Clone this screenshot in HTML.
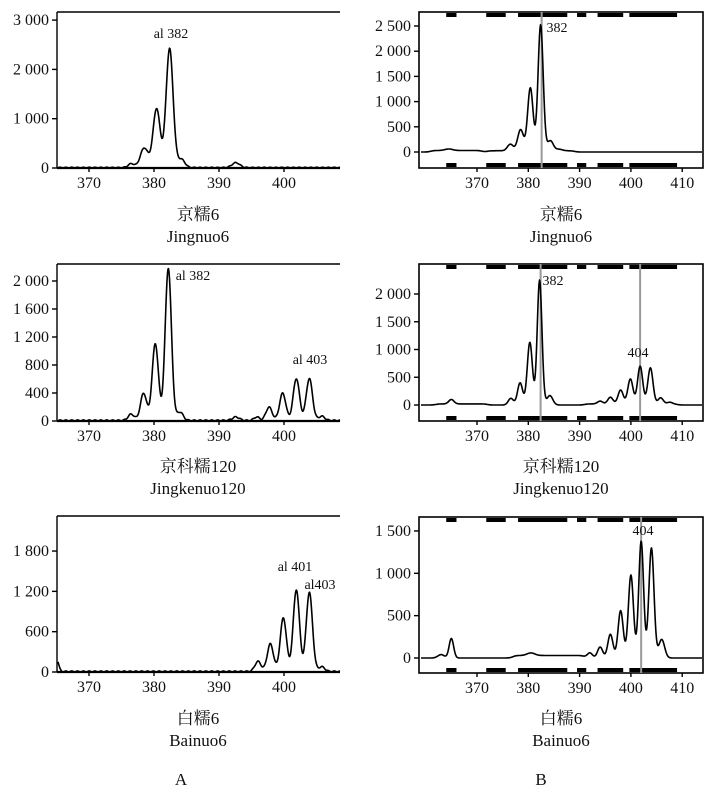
<!DOCTYPE html>
<html><head><meta charset="utf-8"><style>
html,body{margin:0;padding:0;background:#fff}
svg text{font-family:"Liberation Serif","Noto Serif CJK SC",serif;fill:#111}
</style></head><body>
<svg id="s" width="714" height="794" xmlns="http://www.w3.org/2000/svg"></svg>
<script>
const S=document.getElementById('s');let h='';
function T(x,y,t,sz,anc){h+=`<text x="${x}" y="${y}" font-size="${sz||16}" text-anchor="${anc||'middle'}">${t}</text>`;}
function L(x1,y1,x2,y2,c,w){h+=`<line x1="${x1}" y1="${y1}" x2="${x2}" y2="${y2}" stroke="${c||'#000'}" stroke-width="${w||1.4}"/>`;}
function sm(v,a,b){return 1/(1+Math.exp(-(v-a)*3))-1/(1+Math.exp(-(v-b)*3));}
function curve(peaks,x0,x1,vx,base0,sy,bl,k){
  let d='';
  for(let px=x0;px<=x1;px+=0.5){
    const v=vx(px);let y=0;
    for(const p of peaks){const s=(p[2]||0.45)*k;y+=p[1]*Math.exp(-Math.pow(v-p[0],2)/(2*s*s));}
    if(bl)y+=bl(v);
    let py=base0-y*sy;
    d+=(d?'L':'M')+px.toFixed(1)+' '+py.toFixed(1);
  }
  h+=`<path d="${d}" fill="none" stroke="#000" stroke-width="1.6" stroke-linejoin="round"/>`;
}
// ----- Panel A -----
function panelA(top,bot,ticks,sy,peaks,name,sub,ty,ann){
  const x0=57,x1=340;
  L(x0,top,x1,top);L(x0,top,x0,bot);L(x0,bot,x1,bot,'#000',2.2);
  for(const [v,lab] of ticks){const y=bot-v*sy;L(x0-5,y,x0,y);T(x0-8,y+5,lab,16,'end');}
  for(const v of [370,380,390,400]){const x=89+(v-370)*6.5;L(x,bot,x,bot+4);T(x,bot+20,v,16);}
  curve(peaks,x0+1,x1,px=>370+(px-89)/6.5,bot,sy,v=>((Math.sin(v*7)+1)*8),1.2);
  T(198,ty,name,17);T(198,ty+22,sub,17);
  for(const a of ann)T(a[0],a[1],a[2],14);
}
panelA(12,168,[[0,'0'],[1000,'1 000'],[2000,'2 000'],[3000,'3 000']],0.0493,
 [[376.5,80,.4],[378.5,400,.5],[380.4,1200,.45],[382.4,2420,.45],[384.2,170,.45],[392.6,100,.5]],
 '京糯6','Jingnuo6',220,[[171,38,'al 382']]);
panelA(264,421,[[0,'0'],[400,'400'],[800,'800'],[1200,'1 200'],[1600,'1 600'],[2000,'2 000']],0.07,
 [[376.5,90,.4],[378.4,390,.4],[380.2,1100,.4],[382.2,2180,.4],[384,120,.4],[392.6,50],[395.8,50,.35],[397.7,190,.4],[399.8,390,.4],[401.9,600,.4],[403.9,600,.4],[405.8,60,.4]],
 '京科糯120','Jingkenuo120',472,[[193,280,'al 382'],[310,364,'al 403']]);
panelA(516,672,[[0,'0'],[600,'600'],[1200,'1 200'],[1800,'1 800']],0.0672,
 [[365,200,.25],[396,150,.4],[397.9,410,.4],[399.9,800,.4],[401.9,1220,.4],[403.9,1180,.4],[405.8,70,.4]],
 '白糯6','Bainuo6',724,[[295,571,'al 401'],[320,589,'al403']]);
T(181,785,'A',17);
// ----- Panel B -----
const segs=[[364,366],[371.8,375.6],[378,387.6],[389.5,391.3],[393.5,398.5],[399.7,409]];
function panelB(top,bot,z,ticks,sy,peaks,bl,name,sub,ty,gl,ann){
  const x0=419,x1=703,X=v=>477+(v-370)*5.13;
  h+=`<rect x="${x0}" y="${top}" width="${x1-x0}" height="${bot-top}" fill="none" stroke="#000" stroke-width="1.6"/>`;
  for(const s of segs){h+=`<rect x="${X(s[0])}" y="${top+1}" width="${X(s[1])-X(s[0])}" height="4" fill="#000"/><rect x="${X(s[0])}" y="${bot-5}" width="${X(s[1])-X(s[0])}" height="4" fill="#000"/>`;}
  for(const g of gl)L(X(g),top,X(g),bot,'#999',2);
  for(const [v,lab] of ticks){const y=z-v*sy;L(x0-5,y,x0,y);T(x0-8,y+5,lab,16,'end');}
  for(const v of [370,380,390,400,410]){const x=X(v);L(x,bot,x,bot+4);T(x,bot+20,v,16);}
  curve(peaks,x0+2,x1-1,px=>370+(px-477)/5.13,z,sy,bl,1.25);
  T(561,ty,name,17);T(561,ty+22,sub,17);
  for(const a of ann)T(a[0],a[1],a[2],14);
}
panelB(12,168,152,[[0,'0'],[500,'500'],[1000,'1 000'],[1500,'1 500'],[2000,'2 000'],[2500,'2 500']],0.0504,
 [[364.5,30,.6],[376.5,130,.45],[378.5,420,.45],[380.4,1250,.42],[382.4,2500,.4],[384.3,200,.45],[386,30,.5]],
 v=>30*sm(v,361,371)+25*sm(v,372,389),'京糯6','Jingnuo6',220,[382.6],[[557,32,'382']]);
panelB(264,421,405,[[0,'0'],[500,'500'],[1000,'1 000'],[1500,'1 500'],[2000,'2 000']],0.0555,
 [[365,80,.4],[376.6,120,.4],[378.4,400,.4],[380.3,1130,.4],[382.2,2250,.37],[384.2,170,.45],[394,50,.4],[396,120,.4],[398,250,.4],[399.9,450,.4],[401.8,680,.4],[403.8,650,.4],[405.8,110,.4],[407.6,30,.4]],
 v=>20*sm(v,362,372)+20*sm(v,391,409),'京科糯120','Jingkenuo120',472,[382.4,401.8],[[553,285,'382'],[638,357,'404']]);
panelB(517,673,658,[[0,'0'],[500,'500'],[1000,'1 000'],[1500,'1 500']],0.0847,
 [[363,40,.5],[365,230,.35],[380.5,30,.6],[392,60,.4],[394,130,.4],[396,280,.4],[398,560,.4],[400,980,.4],[402,1380,.38],[404,1300,.4],[406,220,.45]],
 v=>30*sm(v,377,391),'白糯6','Bainuo6',724,[402],[[643,535,'404']]);
T(541,785,'B',17);
S.innerHTML=h;
</script>
</body></html>
